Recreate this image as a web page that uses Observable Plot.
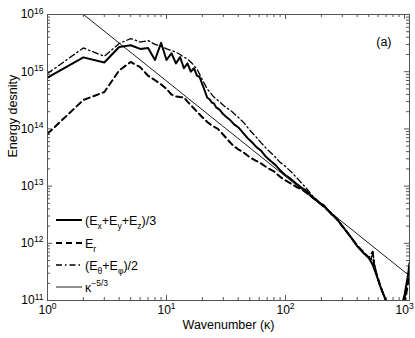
<!DOCTYPE html>
<html><head><meta charset="utf-8">
<script src="https://cdn.jsdelivr.net/npm/d3@7"></script>
<script src="https://cdn.jsdelivr.net/npm/@observablehq/plot@0.6"></script>
<style>
body{margin:0;background:#fff;}
#chart{width:415px;height:338px;font-family:"Liberation Sans",Arial,sans-serif;}
</style></head><body><div id="chart"></div>
<script>
// ---- data ----
const kTotal = [1,2,3,4,5,6,7,8,9,10,11,12,13,14,15,16,17,18,19,20,21,22,23,24,25,26,28,30,32,34,37,40,44,48,52,57,62,68,75,82,90,100,110,122,135,150,170,190,210,240,270,300,350,400,450,500,540,580,620,660,700,760,850,960,1000,1040,1070,1100];
const eTotal = [7.9e14,1.78e15,1.45e15,2.7e15,2.9e15,2.5e15,2.6e15,1.6e15,3.2e15,1.6e15,2.1e15,1.4e15,1.8e15,1.15e15,1.4e15,1.0e15,1.15e15,8.5e14,8.0e14,6.0e14,4.6e14,3.5e14,3.3e14,2.9e14,2.8e14,2.4e14,2.15e14,1.8e14,1.6e14,1.45e14,1.2e14,1.07e14,8.5e13,6.9e13,5.9e13,4.8e13,4.2e13,3.3e13,2.75e13,2.35e13,1.9e13,1.55e13,1.35e13,1.12e13,9.5e12,8.3e12,6.3e12,5.2e12,4.6e12,3.3e12,2.7e12,2.0e12,1.32e12,8.9e11,6.8e11,5.6e11,4.2e11,2.8e11,1.86e11,1.32e11,1.0e11,6.3e10,4.0e10,9.0e10,1.26e11,2.0e11,2.8e11,4.5e11];

const kRadial = [1,2,3,4,5,6,7,8,9,10,11,12,13,14,15,16,18,20,22,24,27,30,33,36,40,45,50,56,62,70,80,90,100,110,125,140,160,190,220,250,300,350,400,450,500,520,540,555,580,620,660,700,780,900,980,1020,1060,1100];
const eRadial = [8.2e13,3.2e14,4.4e14,1.05e15,1.48e15,1.2e15,8.5e14,7.1e14,6.0e14,5.0e14,4.0e14,3.7e14,3.6e14,3.55e14,3.0e14,2.6e14,2.0e14,1.6e14,1.32e14,1.15e14,1.0e14,7.9e13,6.3e13,5.2e13,4.4e13,3.8e13,3.2e13,2.8e13,2.5e13,2.1e13,1.8e13,1.45e13,1.26e13,1.12e13,9.5e12,8.5e12,6.9e12,5.2e12,4.0e12,3.2e12,2.0e12,1.32e12,9.1e11,7.1e11,5.6e11,6.3e11,7.1e11,4.0e11,3.0e11,1.9e11,1.32e11,9.5e10,5.0e10,4.0e10,7.0e10,1.12e11,1.78e11,3.2e11];

const kTang = [1,2,3,4,5,6,7,8,9,10,11,12,13,14,15,16,18,20,22,25,28,31,35,40,45,50,56,62,70,80,90,100,115,130,150,170,190,210,240,270,300,350,400,450,500,525,540,550,580,620,660,700,800,950,1000,1050,1100];
const eTang = [9.3e14,2.6e15,1.86e15,3.1e15,3.8e15,3.3e15,3.5e15,3.0e15,2.8e15,2.5e15,2.35e15,2.2e15,2.0e15,1.8e15,1.66e15,1.48e15,1.12e15,7.2e14,5.0e14,3.6e14,2.95e14,2.45e14,2.05e14,1.6e14,1.26e14,9.5e13,7.4e13,5.8e13,4.4e13,3.4e13,2.6e13,2.2e13,1.66e13,1.26e13,9.1e12,6.6e12,5.4e12,4.6e12,3.4e12,2.6e12,2.0e12,1.32e12,9.1e11,6.9e11,5.8e11,5.2e11,7.6e11,5.6e11,2.9e11,1.86e11,1.32e11,9.8e10,5.0e10,6.3e10,1.0e11,2.0e11,4.0e11];

const kRef = [1,1100];
const eRef = [3.2e16,2.7e11];

const xMajor = [1,10,100,1000];
const yMajor = [1e11,1e12,1e13,1e14,1e15,1e16];
const xLabel = "Wavenumber (κ)";
const yLabel = "Energy desnity";
const panelTag = "(a)";
const legendItems = [
  {parts:[["(E"],["x","sub"],["+E"],["y","sub"],["+E"],["z","sub"],[")/3"]], width:2, dash:null},
  {parts:[["E"],["r","sub"]], width:2, dash:"6,4"},
  {parts:[["(E"],["θ","sub"],["+E"],["φ","sub"],[")/2"]], width:1.3, dash:"6,3,1.5,3"},
  {parts:[["κ"],["−5/3","sup"]], width:0.9, dash:null}
];

// ---- layout ----
const W=415, H=338, mL=47, mR=6, mT=14, mB=38;
const innerW=W-mL-mR, innerH=H-mT-mB;
const xDomain=[1,1100], yDomain=[1e11,1e16];

const toRows = (ks, es) => ks.map((k,i)=>({k, e:es[i]}));
const total=toRows(kTotal,eTotal), radial=toRows(kRadial,eRadial), tang=toRows(kTang,eTang), ref=toRows(kRef,eRef);

const xAll = d3.scaleLog().domain(xDomain).ticks().filter(v=>v>=1 && v<=1100);
const yAll = d3.scaleLog().domain(yDomain).ticks();
const isMajor = v => Math.abs(Math.log10(v)-Math.round(Math.log10(v)))<1e-9;
const xMin = xAll.filter(v=>!isMajor(v)), xMaj = xAll.filter(isMajor);
const yMin = yAll.filter(v=>!isMajor(v)), yMaj = yAll.filter(isMajor);
const axisColor="#555";
const majLen=5, minLen=3;

const plot = Plot.plot({
  width:W, height:H, marginLeft:mL, marginRight:mR, marginTop:mT, marginBottom:mB,
  style:{fontFamily:'"Liberation Sans",Arial,sans-serif', fontSize:"12px", background:"#fff", color:"#000"},
  x:{type:"log", domain:xDomain, axis:null, label:null},
  y:{type:"log", domain:yDomain, axis:null, label:null},
  marks:[
    Plot.tickX(xMaj,{x:d=>d, insetTop:innerH-majLen, stroke:axisColor}),
    Plot.tickX(xMin,{x:d=>d, insetTop:innerH-minLen, stroke:axisColor}),
    Plot.tickX(xMaj,{x:d=>d, insetBottom:innerH-majLen, stroke:axisColor}),
    Plot.tickX(xMin,{x:d=>d, insetBottom:innerH-minLen, stroke:axisColor}),
    Plot.tickY(yMaj,{y:d=>d, insetRight:innerW-majLen, stroke:axisColor}),
    Plot.tickY(yMin,{y:d=>d, insetRight:innerW-minLen, stroke:axisColor}),
    Plot.tickY(yMaj,{y:d=>d, insetLeft:innerW-majLen, stroke:axisColor}),
    Plot.tickY(yMin,{y:d=>d, insetLeft:innerW-minLen, stroke:axisColor}),
    Plot.line(ref,{x:"k", y:"e", stroke:"#000", strokeWidth:0.9, clip:true}),
    Plot.line(radial,{x:"k", y:"e", stroke:"#000", strokeWidth:2, strokeDasharray:"6,4", clip:true}),
    Plot.line(tang,{x:"k", y:"e", stroke:"#000", strokeWidth:1.3, strokeDasharray:"6,3,1.5,3", clip:true}),
    Plot.line(total,{x:"k", y:"e", stroke:"#000", strokeWidth:2, clip:true}),
    Plot.frame({stroke:axisColor}),
    Plot.axisX(xMajor,{tickSize:0, tickPadding:5, tickFormat:d=>"E"+Math.round(Math.log10(d)), fontSize:12, anchor:"bottom", label:null}),
    Plot.axisY(yMajor,{tickSize:0, tickPadding:4, tickFormat:d=>"E"+Math.round(Math.log10(d)), fontSize:12, anchor:"left", label:null}),
    Plot.text([xLabel],{frameAnchor:"bottom", dy:28, fontSize:12.5}),
    Plot.text([yLabel],{frameAnchor:"left", rotate:-90, dx:-35, fontSize:12.5}),
    Plot.text([panelTag],{frameAnchor:"top-right", dx:-18, dy:23, fontSize:12.5})
  ]
});

// superscript exponents on tick labels
d3.select(plot).selectAll('g[aria-label="x-axis tick label"] text, g[aria-label="y-axis tick label"] text').each(function(){
  const t = d3.select(this);
  const s = t.text();
  if (!s.startsWith("E")) return;
  const exp = s.slice(1);
  t.text("10");
  t.append("tspan").attr("dy","-0.55em").attr("font-size","8.5px").text(exp);
});

// legend
const svg = d3.select(plot);
const leg = svg.append("g").attr("font-size","12.5px").attr("text-anchor","start")
  .attr("font-family",'"Liberation Sans",Arial,sans-serif');
const rowsY=[220,243,265,287];
legendItems.forEach((it,i)=>{
  const y=rowsY[i];
  leg.append("line").attr("x1",56).attr("x2",82).attr("y1",y).attr("y2",y)
    .attr("stroke","#000").attr("stroke-width",it.width).attr("stroke-dasharray",it.dash);
  const tx = leg.append("text").attr("x",85).attr("y",y+4.5).attr("text-anchor","start");
  let shift=0;
  it.parts.forEach(([s,kind])=>{
    const sp = tx.append("tspan").text(s);
    let target = kind==="sub"?4:kind==="sup"?-6:0;
    if (target-shift !== 0) sp.attr("dy", target-shift);
    shift=target;
    if(kind) sp.attr("font-size","8.5px");
  });
});

document.getElementById("chart").appendChild(plot);
</script>
</body></html>
